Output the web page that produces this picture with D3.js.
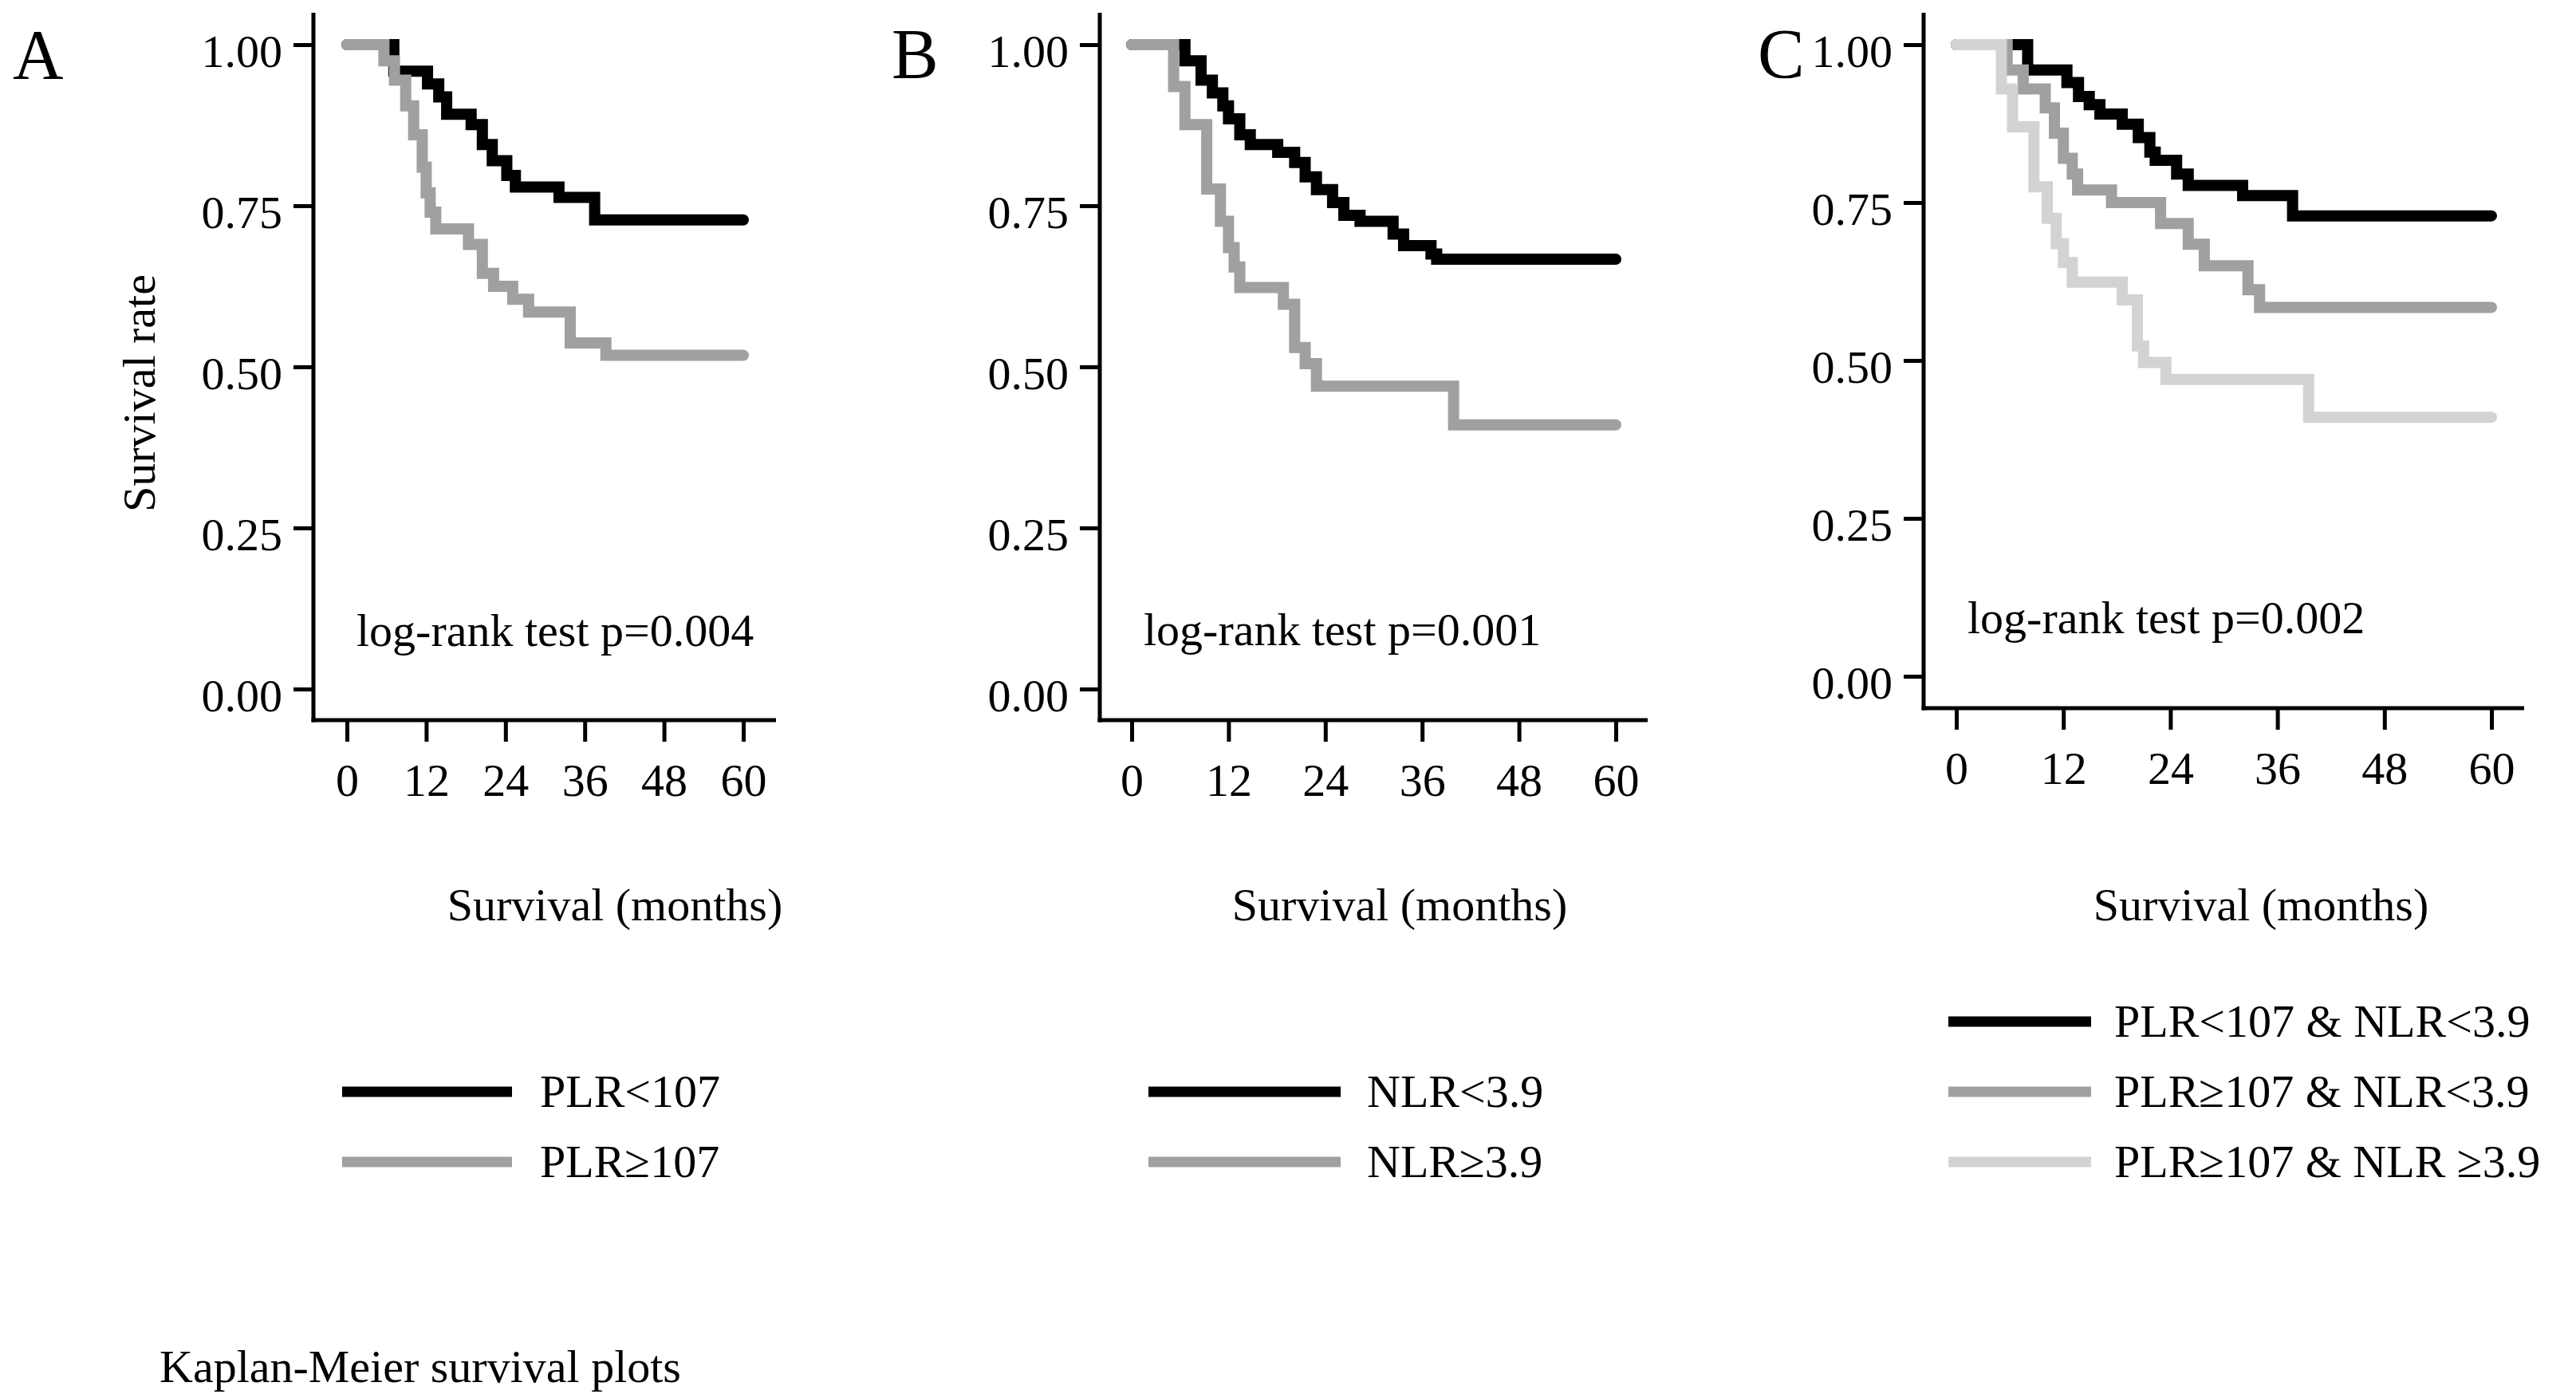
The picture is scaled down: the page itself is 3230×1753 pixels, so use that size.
<!DOCTYPE html>
<html><head><meta charset="utf-8">
<script src="https://cdn.jsdelivr.net/npm/d3@7"></script>
<style>
body{margin:0;background:#fff}
svg{display:block}
text{font-family:"Liberation Serif","Times New Roman",serif;fill:#000}
</style>
</head><body>
<svg id="c" width="3230" height="1753"></svg>
<script>
// ---------- data ----------
const xTicks = [0, 12, 24, 36, 48, 60];
const yTicks = [0, 0.25, 0.5, 0.75, 1];
const yTickLabels = ["0.00", "0.25", "0.50", "0.75", "1.00"];

// Panel A
const plrLow = [[0,1],[7.1,0.959],[12.2,0.939],[13.9,0.919],[15.1,0.892],[18.8,0.876],[20.5,0.845],[22.0,0.82],[24.2,0.797],[25.5,0.779],[32.1,0.763],[37.5,0.728],[60,0.728]];
const plrHigh = [[0,1],[5.6,0.975],[7.2,0.945],[8.9,0.905],[10.1,0.86],[11.4,0.81],[12.0,0.77],[12.6,0.74],[13.45,0.714],[18.4,0.69],[20.5,0.645],[22.2,0.625],[25.1,0.605],[27.5,0.585],[33.8,0.537],[39.2,0.518],[60,0.518]];
// Panel B
const nlrLow = [[0,1],[6.6,0.975],[8.6,0.945],[10.0,0.925],[11.3,0.905],[12.0,0.885],[13.4,0.86],[14.7,0.845],[18.1,0.833],[20.2,0.817],[21.5,0.795],[22.9,0.775],[24.9,0.755],[26.3,0.735],[28.3,0.726],[32.4,0.706],[33.7,0.688],[37.1,0.675],[37.8,0.667],[60,0.667]];
const nlrHigh = [[0,1],[5.2,0.935],[6.6,0.876],[9.3,0.776],[11.0,0.726],[12.0,0.685],[12.7,0.655],[13.4,0.623],[18.8,0.597],[20.2,0.53],[21.5,0.505],[22.9,0.47],[39.9,0.41],[60,0.41]];
// Panel C
const bothLow = [[0,1],[8.0,0.96],[12.4,0.94],[13.7,0.918],[14.9,0.905],[16.1,0.89],[18.6,0.874],[20.4,0.853],[21.7,0.83],[22.3,0.817],[24.7,0.795],[26.0,0.777],[32.1,0.761],[37.7,0.729],[60,0.729]];
const plrHighNlrLow = [[0,1],[5.7,0.96],[7.5,0.93],[9.97,0.9],[11.0,0.86],[12.0,0.82],[13.0,0.795],[13.6,0.77],[17.4,0.75],[22.9,0.717],[26.0,0.684],[27.8,0.65],[32.7,0.612],[34.0,0.584],[60,0.584]];
const bothHigh = [[0,1],[5.05,0.93],[6.3,0.87],[8.7,0.775],[10.2,0.725],[11.2,0.685],[12.0,0.655],[13.0,0.624],[18.6,0.596],[20.3,0.523],[21.0,0.497],[23.5,0.47],[39.5,0.41],[60,0.41]];

const legendA = ["PLR<107", "PLR\u2265107"];
const legendB = ["NLR<3.9", "NLR\u22653.9"];
const legendC = ["PLR<107 & NLR<3.9", "PLR\u2265107 & NLR<3.9", "PLR\u2265107 & NLR \u22653.9"];
const pValues = ["log-rank test p=0.004", "log-rank test p=0.001", "log-rank test p=0.002"];
const panelLetters = ["A", "B", "C"];
const colors = ["#000000", "#a0a0a0", "#d3d3d3"];

// ---------- layout ----------
const panels = [
  {letter:panelLetters[0], series:[plrLow, plrHigh], legend:legendA, p:pValues[0],
   axX:393, xr:[435,932], xEnd:973, yr:[864,56], axY:903,
   lx:16, ly:98, px:447, py:810, tx:771,
   legLine:[429,642], legText:677, legRows:[1369,1457]},
  {letter:panelLetters[1], series:[nlrLow, nlrHigh], legend:legendB, p:pValues[1],
   axX:1379, xr:[1419,2026], xEnd:2066, yr:[864,56], axY:903,
   lx:1118, ly:97, px:1434, py:809, tx:1755,
   legLine:[1440,1681], legText:1714, legRows:[1369,1457]},
  {letter:panelLetters[2], series:[bothLow, plrHighNlrLow, bothHigh], legend:legendC, p:pValues[2],
   axX:2412, xr:[2453,3124], xEnd:3165, yr:[848,56], axY:888,
   lx:2204, ly:97, px:2467, py:794, tx:2835,
   legLine:[2443,2622], legText:2651, legRows:[1281,1369,1457]}
];

const svg = d3.select("#c");
const FS = 58;

panels.forEach((P, pi) => {
  const x = d3.scaleLinear().domain([0,60]).range(P.xr);
  const y = d3.scaleLinear().domain([0,1]).range(P.yr);
  const g = svg.append("g");

  // axes lines
  g.append("line").attr("x1",P.axX).attr("x2",P.axX).attr("y1",16).attr("y2",P.axY+2.5)
    .attr("stroke","#000").attr("stroke-width",5);
  g.append("line").attr("x1",P.axX-2.5).attr("x2",P.xEnd).attr("y1",P.axY).attr("y2",P.axY)
    .attr("stroke","#000").attr("stroke-width",5);

  // y axis
  const ya = g.append("g").attr("transform",`translate(${P.axX},0)`)
    .call(d3.axisLeft(y).tickValues(yTicks).tickSize(25).tickPadding(14)
      .tickFormat((d,i)=>yTickLabels[i]));
  ya.select(".domain").remove();
  ya.selectAll(".tick line").attr("stroke","#000").attr("stroke-width",5);
  ya.selectAll(".tick text").attr("font-size",FS).attr("dy","0.47em")
    .style("font-family","'Liberation Serif',serif").attr("fill","#000");

  // x axis
  const xa = g.append("g").attr("transform",`translate(0,${P.axY})`)
    .call(d3.axisBottom(x).tickValues(xTicks).tickSize(27).tickFormat(d3.format("d")));
  xa.select(".domain").remove();
  xa.selectAll(".tick line").attr("stroke","#000").attr("stroke-width",5);
  xa.selectAll(".tick text").attr("font-size",FS).attr("y",95).attr("dy","0")
    .style("font-family","'Liberation Serif',serif").attr("fill","#000");

  // curves
  const line = d3.line().x(d=>x(d[0])).y(d=>y(d[1])).curve(d3.curveStepAfter);
  P.series.forEach((s, si) => {
    g.append("path").attr("d", line(s)).attr("fill","none")
      .attr("stroke", colors[si]).attr("stroke-width",14)
      .attr("stroke-linejoin","miter").attr("stroke-linecap","round");
  });

  // texts
  g.append("text").attr("x",P.lx).attr("y",P.ly).attr("font-size",88).text(P.letter);
  g.append("text").attr("x",P.px).attr("y",P.py).attr("font-size",FS).text(P.p);
  g.append("text").attr("x",P.tx).attr("y",1154).attr("font-size",FS)
    .attr("text-anchor","middle").text("Survival (months)");

  // legend
  P.legend.forEach((lab, li) => {
    const cy = P.legRows[li];
    g.append("line").attr("x1",P.legLine[0]).attr("x2",P.legLine[1]).attr("y1",cy).attr("y2",cy)
      .attr("stroke",colors[li]).attr("stroke-width",13);
    g.append("text").attr("x",P.legText).attr("y",cy+19).attr("font-size",FS).text(lab);
  });
});

svg.append("text").attr("transform","translate(194,493) rotate(-90)")
  .attr("text-anchor","middle").attr("font-size",FS).text("Survival rate");
svg.append("text").attr("x",200).attr("y",1733).attr("font-size",FS).text("Kaplan-Meier survival plots");
</script>
</body></html>
